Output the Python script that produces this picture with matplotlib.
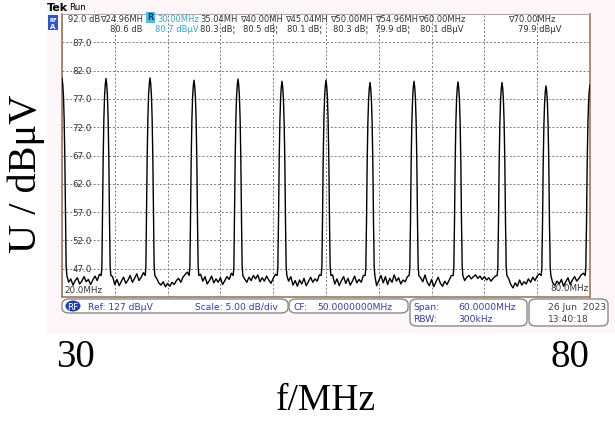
"""Spectrum analyser screenshot: harmonic lines of a 5 MHz signal."""

import matplotlib

matplotlib.use("Agg")

import matplotlib.pyplot as plt  # noqa: E402
from matplotlib.patches import Ellipse, FancyBboxPatch, Rectangle  # noqa: E402

W, H = 615, 427

# spectral lines (MHz, dBuV)
peak_freqs = [20, 25, 30, 35, 40, 45, 50, 55, 60, 65, 70, 75, 80]
peak_levels = [80.7, 80.6, 80.7, 80.3, 80.5, 80.1, 80.3, 79.9, 80.1, 80.0, 79.9, 79.3, 79.5]

# shape of one line: offset from centre (MHz) and drop below its peak (dB)
line_offsets = [-0.4, -0.32, -0.24, -0.16, -0.08, 0.0, 0.08, 0.16, 0.24, 0.32, 0.4]
line_drops = [25.0, 14.0, 7.0, 3.0, 1.0, 0.0, 1.0, 3.0, 7.0, 14.0, 25.0]

# skirts at the foot of each line (offset MHz, level dBuV)
skirt_left_offsets = [-0.55, -0.47, -0.45]
skirt_left_levels = [45.8, 47.2, 50.0]
skirt_right_offsets = [0.45, 0.47, 0.55]
skirt_right_levels = [50.5, 47.5, 45.8]

# noise floor between two neighbouring lines, offsets from the left line
noise_offsets = [0.75, 1.0, 1.25, 1.5, 1.75, 2.0, 2.25, 2.5, 2.75, 3.0, 3.25, 3.5, 3.75, 4.0, 4.25]
noise_gaps = [
    [44.6, 45.2, 44.1, 44.9, 45.4, 44.3, 44.8, 45.6, 44.7, 45.1, 44.2, 45.0, 45.7, 44.9, 46.0],
    [45.6, 44.2, 45.1, 44.0, 44.8, 45.5, 44.4, 45.0, 45.8, 44.6, 45.3, 46.1, 44.9, 45.5, 46.3],
    [45.3, 44.5, 44.1, 44.7, 43.8, 44.4, 43.9, 44.6, 44.2, 44.9, 45.3, 44.6, 45.5, 46.0, 46.4],
    [46.0, 44.8, 45.6, 44.3, 44.9, 45.7, 44.5, 45.2, 44.6, 45.4, 44.2, 44.9, 45.6, 45.1, 46.2],
    [45.2, 44.6, 45.5, 44.9, 45.8, 45.2, 45.9, 44.7, 45.4, 44.8, 45.7, 45.0, 44.4, 45.3, 46.0],
    [44.8, 45.6, 44.1, 44.9, 43.9, 45.0, 44.3, 45.3, 44.0, 44.7, 45.5, 44.6, 45.2, 44.8, 45.9],
    [45.9, 44.3, 45.2, 44.0, 44.9, 45.6, 44.4, 45.3, 44.1, 44.8, 45.7, 44.5, 45.1, 44.6, 45.8],
    [44.0, 44.9, 45.8, 44.5, 45.6, 44.2, 45.3, 44.6, 45.9, 44.8, 45.4, 44.3, 45.0, 44.7, 45.6],
    [45.4, 44.7, 45.9, 44.6, 44.0, 45.1, 43.8, 44.7, 45.5, 44.4, 43.9, 44.8, 44.2, 45.0, 45.8],
    [44.9, 45.5, 45.8, 45.2, 45.6, 45.9, 45.3, 45.7, 45.1, 45.6, 45.0, 45.4, 44.8, 45.3, 45.7],
    [45.3, 44.2, 43.6, 44.5, 43.9, 45.0, 44.1, 44.7, 44.3, 45.2, 44.6, 45.5, 44.9, 45.7, 46.1],
    [44.6, 44.0, 44.8, 44.3, 45.1, 43.9, 44.7, 45.4, 44.2, 45.0, 45.6, 44.8, 45.3, 45.9, 46.2],
]

level_ticks = [47.0, 52.0, 57.0, 62.0, 67.0, 72.0, 77.0, 82.0, 87.0]
freq_ticks = [30, 80]

# marker read-outs in the header: (x px, text, colour)
marker_row1 = [
    (68, "92.0 dB", "#333333"),
    (100, "\u220724.96MH", "#333333"),
    (157, "30.00MHz", "#3aa6c8"),
    (200, "35.04MH", "#333333"),
    (240, "\u220740.00MH", "#333333"),
    (285, "\u220745.04MH", "#333333"),
    (330, "\u220750.00MH", "#333333"),
    (375, "\u220754.96MH", "#333333"),
    (418, "\u220760.00MHz", "#333333"),
    (508, "\u220770.00MHz", "#333333"),
]
marker_row2 = [
    (110, "80.6 dB", "#333333"),
    (155, "80.7 dB\u03bcV", "#3aa6c8"),
    (200, "80.3 dB\u00a6", "#333333"),
    (243, "80.5 dB\u00a6", "#333333"),
    (287, "80.1 dB\u00a6", "#333333"),
    (333, "80.3 dB\u00a6", "#333333"),
    (375, "79.9 dB\u00a6", "#333333"),
    (420, "80.1 dB\u03bcV", "#333333"),
    (518, "79.9 dB\u03bcV", "#333333"),
]


def fx(px):
    return px / W


def fy(py):
    return 1 - py / H


# build the trace from the line shape, skirts and noise readings
trace_f = []
trace_u = []
for i, (f0, level) in enumerate(zip(peak_freqs, peak_levels)):
    for off, lev in zip(skirt_left_offsets, skirt_left_levels):
        trace_f.append(f0 + off)
        trace_u.append(lev)
    for off, drop in zip(line_offsets, line_drops):
        trace_f.append(f0 + off)
        trace_u.append(level - drop)
    for off, lev in zip(skirt_right_offsets, skirt_right_levels):
        trace_f.append(f0 + off)
        trace_u.append(lev)
    if i < len(noise_gaps):
        for off, lev in zip(noise_offsets, noise_gaps[i]):
            trace_f.append(f0 + off)
            trace_u.append(lev)

fig = plt.figure(figsize=(W / 100, H / 100), dpi=100)
fig.patch.set_facecolor("white")

# pinkish screen background
screen = fig.add_axes([fx(47), fy(335), fx(615 - 47), (335) / H])
screen.set_facecolor("#fcf6f9")
screen.set_xticks([])
screen.set_yticks([])
for spine in screen.spines.values():
    spine.set_visible(False)
screen.set_zorder(0)

# outer axis carrying the figure's own labels
outer = fig.add_axes([fx(62), fy(333), fx(590 - 62), (333 - 15) / H])
outer.patch.set_visible(False)
for spine in outer.spines.values():
    spine.set_visible(False)
outer.set_xlim(28.69, 82.03)
outer.set_xticks(freq_ticks)
outer.set_xticklabels([str(t) for t in freq_ticks])
outer.set_yticks([])
outer.tick_params(axis="x", length=0, pad=4, labelsize=28)
for lab in outer.get_xticklabels():
    lab.set_fontfamily("Liberation Serif")
outer.set_xlabel("f/MHz", fontsize=27, family="Liberation Serif", labelpad=6)
outer.set_ylabel("U / dB\u03bcV", fontsize=29, family="Liberation Serif", labelpad=12)
outer.set_zorder(1)

# graticule
ax = fig.add_axes([fx(62), fy(298), fx(590 - 62), (298 - 15) / H])
ax.set_facecolor("white")
ax.set_zorder(2)
ax.set_xlim(20, 80)
ax.set_ylim(42, 92)
ax.set_xticks([20 + 6 * k for k in range(11)])
ax.set_yticks([42 + 5 * k for k in range(11)])
ax.tick_params(length=0, labelbottom=False, labelleft=False)
ax.grid(True, color="#7a7a7a", linestyle=(0, (2, 2)), linewidth=0.7)
for side, spine in ax.spines.items():
    spine.set_color("#9c7a5c")
    spine.set_linewidth(1.2)
ax.spines["top"].set_color("#b0a8a8")
ax.spines["top"].set_linewidth(0.8)

ax.plot(trace_f, trace_u, color="black", linewidth=1.0, zorder=3)

for lv in level_ticks:
    ax.text(21.2, lv, f"{lv:.1f}", fontsize=6.3, color="#333333", va="center", ha="left")
ax.text(20.3, 42.6, "20.0MHz", fontsize=6.3, color="#333333", va="bottom", ha="left")
ax.text(79.8, 42.8, "80.0MHz", fontsize=6.3, color="#333333", va="bottom", ha="right")

# header
fig.text(fx(47), fy(8), "Tek", fontsize=8, weight="bold", va="center", ha="left")
fig.text(fx(69), fy(7), "Run", fontsize=6.3, va="center", ha="left")
fig.patches.append(Rectangle((fx(48), fy(31)), fx(10), 15 / H, transform=fig.transFigure,
                             facecolor="#2f55c8", edgecolor="none", zorder=5))
fig.text(fx(53), fy(20), "RF", fontsize=3.8, color="white", weight="bold", ha="center", va="center", zorder=6)
fig.text(fx(53), fy(27), "A", fontsize=5, color="white", weight="bold", ha="center", va="center", zorder=6)
fig.patches.append(Rectangle((fx(146), fy(24)), fx(9), 11 / H, transform=fig.transFigure,
                             facecolor="#3cc8d8", edgecolor="none", zorder=5))
fig.text(fx(150.5), fy(18), "R", fontsize=6, color="#1a2a80", weight="bold", ha="center", va="center", zorder=6)
for x, txt, col in marker_row1:
    fig.text(fx(x), fy(19), txt, fontsize=6.0, color=col, va="center", ha="left", zorder=6)
for x, txt, col in marker_row2:
    fig.text(fx(x), fy(30), txt, fontsize=6.0, color=col, va="center", ha="left", zorder=6)

# status bar
box_col = "#8a8a8a"
txt_col = "#3a3aa8"
boxes = [(62, 300, 226, 14), (289, 300, 119, 14), (410, 300, 117, 27), (529, 300, 79, 27)]
for x0, y0, bw, bh in boxes:
    fig.patches.append(FancyBboxPatch((fx(x0), fy(y0 + bh)), fx(bw), bh / H,
                                      boxstyle="round,pad=0,rounding_size=0.012",
                                      transform=fig.transFigure, facecolor="white",
                                      edgecolor=box_col, linewidth=1.0, zorder=5))
fig.patches.append(Ellipse((fx(73), fy(307)), fx(15), 11 / H, transform=fig.transFigure,
                           facecolor="#1f3fb0", edgecolor="none", zorder=6))
fig.text(fx(73), fy(307), "RF", fontsize=6.3, color="white", ha="center", va="center", zorder=7)
fig.text(fx(88), fy(307), "Ref: 127 dB\u03bcV", fontsize=6.6, color=txt_col, va="center", zorder=7)
fig.text(fx(195), fy(307), "Scale: 5.00 dB/div", fontsize=6.6, color=txt_col, va="center", zorder=7)
fig.text(fx(293), fy(307), "CF:", fontsize=6.6, color=txt_col, va="center", zorder=7)
fig.text(fx(317), fy(307), "50.0000000MHz", fontsize=6.6, color=txt_col, va="center", zorder=7)
fig.text(fx(413), fy(307), "Span:", fontsize=6.6, color=txt_col, va="center", zorder=7)
fig.text(fx(458), fy(307), "60.0000MHz", fontsize=6.6, color=txt_col, va="center", zorder=7)
fig.text(fx(413), fy(320), "RBW:", fontsize=6.6, color=txt_col, va="center", zorder=7)
fig.text(fx(458), fy(320), "300kHz", fontsize=6.6, color=txt_col, va="center", zorder=7)
fig.text(fx(548), fy(307), "26 Jun  2023", fontsize=6.6, color="#404040", va="center", zorder=7)
fig.text(fx(548), fy(320), "13:40:18", fontsize=6.6, color="#404040", va="center", zorder=7)

fig.savefig("out.png", dpi=100)
